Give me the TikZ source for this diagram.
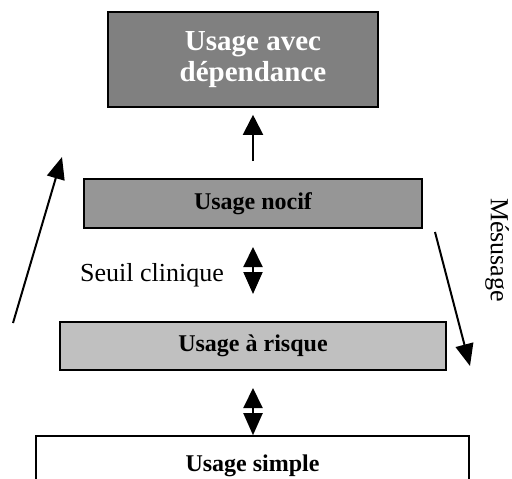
\documentclass[tikz,border=0pt]{standalone}
\usepackage{fontspec}
\setmainfont{Liberation Serif}
\usetikzlibrary{arrows.meta}
\definecolor{gtop}{HTML}{808080}
\definecolor{gnocif}{HTML}{969696}
\definecolor{grisque}{HTML}{C0C0C0}
\begin{document}
\begin{tikzpicture}[x=1pt,y=-1pt,
  level/.style={draw=black,line width=1.6pt,inner sep=0pt,align=center,font=\fontsize{24}{26}\selectfont\bfseries},
  arr/.style={line width=2pt},
  bigtip/.style={-{Triangle[length=20pt,width=20pt]}},
  dbl/.style={{Triangle[length=20pt,width=19pt]}-{Triangle[length=22pt,width=19pt]}},
  diag/.style={-{Triangle[length=22pt,width=18pt]}}]
\clip (0,0) rectangle (512,479);
\node[level,fill=gtop,text=white,minimum width=270pt,minimum height=95pt,
      font=\fontsize{29}{31}\selectfont\bfseries] (top) at (243,59.5) {\hspace*{20pt}Usage avec\\\hspace*{20pt}dépendance};
\node[level,fill=gnocif,minimum width=338pt,minimum height=49pt] (nocif) at (253,203.5) {Usage nocif};
\node[level,fill=grisque,minimum width=386pt,minimum height=48pt] (risque) at (253,346) {Usage à risque};
\node[level,fill=white,minimum width=433pt,minimum height=60pt] (simple) at (252.5,466) {\raisebox{4pt}{Usage simple}};
\node[anchor=base west,font=\fontsize{26}{28}\selectfont,inner sep=0pt] (seuil) at (80,281) {Seuil clinique};
\node[rotate=-90,font=\fontsize{26}{28}\selectfont,inner sep=0pt] (mes) at (497,250) {Mésusage};
% arrows
\draw[arr,bigtip,shorten <=17pt,shorten >=7pt] (nocif.north) -- (nocif.north |- top.south);
\coordinate (s1) at (253,247);
\coordinate (s2) at (253,294);
\draw[arr,dbl] (s1) -- (s2);
\coordinate (b1) at (253,388);
\draw[arr,dbl] (b1) -- (b1 |- simple.north);
\coordinate (l1) at (13,323);
\coordinate (l2) at (62,157);
\draw[arr,diag] (l1) -- (l2);
\coordinate (r1) at (435,232);
\coordinate (r2) at (470,366);
\draw[arr,diag] (r1) -- (r2);
\end{tikzpicture}
\end{document}
